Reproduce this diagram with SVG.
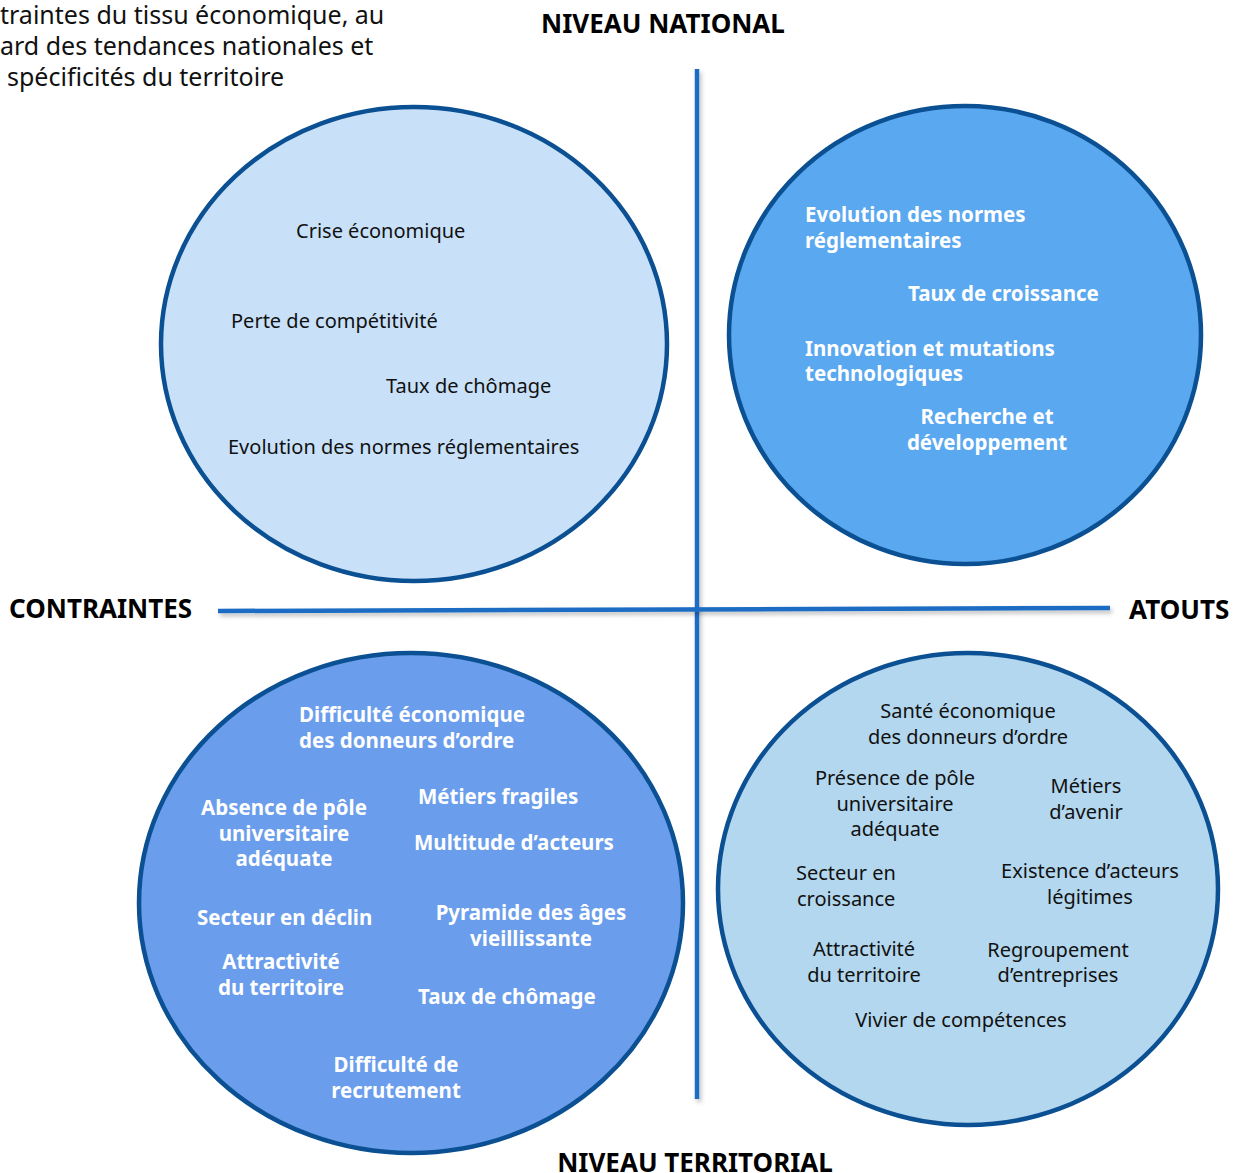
<svg xmlns="http://www.w3.org/2000/svg" width="1236" height="1173" viewBox="0 0 1236 1173">
<style>
text{font-family:"Noto Sans","Open Sans","DejaVu Sans",sans-serif;}
.h{font-size:26px;font-weight:bold;fill:#000;}
.note{font-size:25px;fill:#111;}
.d{font-size:20px;fill:#111;}
.w{font-size:20.5px;fill:#fff;font-weight:bold;}
.c{text-anchor:middle;}
.circ{stroke:#0b5092;stroke-width:4.5;}
.axis{stroke:#1a6cc4;stroke-width:4.5;fill:none;filter:url(#sh);}
</style>
<defs>
<filter id="sh" filterUnits="userSpaceOnUse" x="0" y="0" width="1236" height="1173">
<feDropShadow dx="2" dy="3" stdDeviation="2" flood-color="#000" flood-opacity="0.25"/>
</filter>
</defs>
<rect width="1236" height="1173" fill="#fff"/>
<g id="note">
<text class="note" x="0" y="24">traintes du tissu économique, au</text>
<text class="note" x="0" y="55">ard des tendances nationales et</text>
<text class="note" x="7" y="86">spécificités du territoire</text>
</g>
<g id="connectors">
<line class="axis" x1="697" y1="69" x2="697" y2="1099"/>
<line class="axis" x1="218" y1="611" x2="1110" y2="608"/>
</g>
<g id="labels">
<text class="h c" x="663" y="33">NIVEAU NATIONAL</text>
<text class="h" x="9" y="618">CONTRAINTES</text>
<text class="h" x="1129" y="619">ATOUTS</text>
<text class="h c" x="695" y="1172">NIVEAU TERRITORIAL</text>
</g>
<g id="contraintes-national">
<ellipse class="circ" cx="414" cy="344" rx="253" ry="237" fill="#c8e1f9"/>
<text class="d" x="296" y="238">Crise économique</text>
<text class="d" x="231" y="328">Perte de compétitivité</text>
<text class="d" x="386" y="393">Taux de chômage</text>
<text class="d" x="228" y="454">Evolution des normes réglementaires</text>
</g>
<g id="atouts-national">
<ellipse class="circ" cx="965" cy="335" rx="236" ry="229" fill="#5aa8f0"/>
<text class="w" x="805" y="222">Evolution des normes</text>
<text class="w" x="805" y="248">réglementaires</text>
<text class="w" x="908" y="301">Taux de croissance</text>
<text class="w" x="805" y="356">Innovation et mutations</text>
<text class="w" x="805" y="381">technologiques</text>
<text class="w c" x="987" y="424">Recherche et</text>
<text class="w c" x="987" y="450">développement</text>
</g>
<g id="contraintes-territorial">
<ellipse class="circ" cx="411" cy="903" rx="272" ry="250" fill="#6a9dec"/>
<text class="w" x="299" y="722">Difficulté économique</text>
<text class="w" x="299" y="748">des donneurs d’ordre</text>
<text class="w c" x="284" y="815">Absence de pôle</text>
<text class="w c" x="284" y="841">universitaire</text>
<text class="w c" x="284" y="866">adéquate</text>
<text class="w" x="418" y="804">Métiers fragiles</text>
<text class="w" x="414" y="850">Multitude d’acteurs</text>
<text class="w" x="197" y="925">Secteur en déclin</text>
<text class="w c" x="531" y="920">Pyramide des âges</text>
<text class="w c" x="531" y="946">vieillissante</text>
<text class="w c" x="281" y="969">Attractivité</text>
<text class="w c" x="281" y="995">du territoire</text>
<text class="w" x="418" y="1004">Taux de chômage</text>
<text class="w c" x="396" y="1072">Difficulté de</text>
<text class="w c" x="396" y="1098">recrutement</text>
</g>
<g id="atouts-territorial">
<ellipse class="circ" cx="968" cy="889" rx="250" ry="236" fill="#b3d7ee"/>
<text class="d c" x="968" y="718">Santé économique</text>
<text class="d c" x="968" y="744">des donneurs d’ordre</text>
<text class="d c" x="895" y="785">Présence de pôle</text>
<text class="d c" x="895" y="811">universitaire</text>
<text class="d c" x="895" y="836">adéquate</text>
<text class="d c" x="1086" y="793">Métiers</text>
<text class="d c" x="1086" y="819">d’avenir</text>
<text class="d" x="796" y="880">Secteur en</text>
<text class="d" x="797" y="906">croissance</text>
<text class="d c" x="1090" y="878">Existence d’acteurs</text>
<text class="d c" x="1090" y="904">légitimes</text>
<text class="d c" x="864" y="956">Attractivité</text>
<text class="d c" x="864" y="982">du territoire</text>
<text class="d c" x="1058" y="957">Regroupement</text>
<text class="d c" x="1058" y="982">d’entreprises</text>
<text class="d c" x="961" y="1027">Vivier de compétences</text>
</g>
</svg>
